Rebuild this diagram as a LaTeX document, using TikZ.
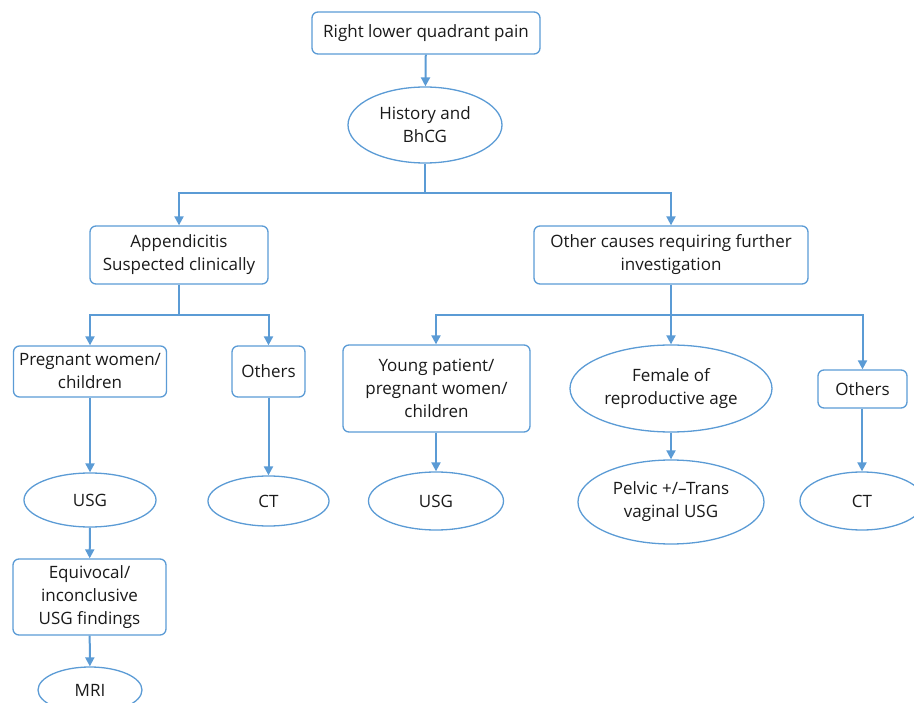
\documentclass[tikz,border=0pt]{standalone}
\usepackage{fontspec}
\setmainfont{Open Sans}
\usetikzlibrary{arrows.meta,shapes.geometric}
\definecolor{flowblue}{HTML}{5B9BD5}
\definecolor{flowtext}{HTML}{1A1A1A}
\tikzset{
  box/.style={draw=flowblue, line width=1.3pt, rounded corners=6pt, align=center,
    text=flowtext, inner sep=0pt, font=\fontsize{17}{23}\selectfont},
  oval/.style={draw=flowblue, line width=1.3pt, ellipse, align=center,
    text=flowtext, inner sep=0pt, font=\fontsize{17}{23}\selectfont},
  link/.style={draw=flowblue, line width=2pt},
  arr/.style={link, -{Triangle[width=9pt,length=9pt]}}
}
\begin{document}
\begin{tikzpicture}[x=1pt,y=-1pt]
\useasboundingbox (0,0) rectangle (914,703);
\clip (0,0) rectangle (914,703);

% top of the chart
\node[box, minimum width=228pt, minimum height=42pt] (rlq) at (426,33) {Right lower quadrant pain};
\node[oval, minimum width=154pt, minimum height=76pt] (hist) at (425,125) {History and\\BhCG};

% first split
\node[box, minimum width=178pt, minimum height=58pt] (app) at (179,255) {Appendicitis\\Suspected clinically};
\node[box, minimum width=274pt, minimum height=58pt] (oth) at (671,255) {Other causes requiring further\\investigation};

% appendicitis branch
\node[box, minimum width=153pt, minimum height=51pt] (preg) at (90,371.5) {Pregnant women/\\children};
\node[box, minimum width=73pt, minimum height=51pt] (othersA) at (268.5,371.5) {Others};
\node[oval, minimum width=132pt, minimum height=54pt] (usgA) at (90,500) {USG};
\node[oval, minimum width=121pt, minimum height=50pt] (ctA) at (268.5,501) {CT};
\node[box, minimum width=153pt, minimum height=76pt] (equiv) at (89.5,597) {Equivocal/\\inconclusive\\USG findings};
\node[oval, minimum width=104pt, minimum height=46pt] (mri) at (90,690) {MRI};

% other causes branch
\node[box, minimum width=187pt, minimum height=87pt] (young) at (436.5,388.5) {Young patient/\\pregnant women/\\children};
\node[oval, minimum width=202pt, minimum height=87pt] (female) at (671,388.5) {Female of\\reproductive age};
\node[box, minimum width=89pt, minimum height=38pt] (othersB) at (862.5,389) {Others};
\node[oval, minimum width=135pt, minimum height=58pt] (usgB) at (436,501) {USG};
\node[oval, minimum width=186pt, minimum height=84pt] (pelvic) at (671,502) {Pelvic +/--Trans\\vaginal USG};
\node[oval, minimum width=124pt, minimum height=58pt] (ctB) at (862,501) {CT};

% junction points
\coordinate (j1) at (425,193);
\coordinate (j2) at (179,315);
\coordinate (j3) at (671,315);

% connectors
\draw[arr] (rlq) -- (hist);
\draw[link] (hist) -- (j1);
\draw[arr] (j1) -| (app);
\draw[arr] (j1) -| (oth);

\draw[link] (app) -- (j2);
\draw[arr] (j2) -| (preg);
\draw[arr] (j2) -| (othersA);

\draw[link] (oth) -- (j3);
\draw[arr] (j3) -| ([xshift=-0.5pt]young.north);
\draw[arr] (j3) -- (female);
\draw[arr] (j3) -| (othersB);

\draw[arr] (preg) -- (usgA);
\draw[arr] (othersA) -- (ctA);
\draw[arr] (usgA) -- (equiv);
\draw[arr] (equiv) -- (mri);
\draw[arr] ([xshift=-0.5pt]young.south) -- (usgB);
\draw[arr] (female) -- (pelvic);
\draw[arr] ([xshift=-0.5pt]othersB.south) -- (ctB);
\end{tikzpicture}
\end{document}
